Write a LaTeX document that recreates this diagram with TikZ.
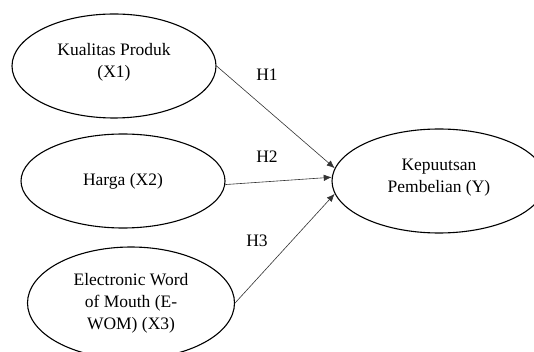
\documentclass[tikz,border=0pt]{standalone}
\usepackage{fontspec}
\setmainfont{Liberation Serif}
\usetikzlibrary{shapes.geometric,arrows.meta}
\begin{document}
\begin{tikzpicture}[x=1pt,y=-1pt,
  var/.style={draw=black,ellipse,line width=1.1pt,inner sep=0pt,align=center,
    font=\fontsize{17.5}{22}\selectfont,text=black},
  up/.style={text depth=10.5pt},
  path/.style={draw=black!80,line width=0.6pt,-{Latex[length=8pt,width=6.5pt]}},
  hyp/.style={font=\fontsize{17.5}{22}\selectfont,text=black}]
\useasboundingbox (0,0) rectangle (534,352);
\clip (0,0) rectangle (534,352);
\fill[white] (0,0) rectangle (534,352);
\node[var,up,minimum width=204pt,minimum height=104pt] (x1) at (114,66) {Kualitas Produk\\(X1)};
\node[var,minimum width=204pt,minimum height=94pt] (x2) at (123,181) {Harga (X2)};
\node[var,minimum width=207pt,minimum height=112pt] (x3) at (131,303) {Electronic Word\\of Mouth (E-\\WOM) (X3)};
\node[var,up,minimum width=214pt,minimum height=104pt] (y) at (439,181) {Kepuutsan\\Pembelian (Y)};
\draw[path] (x1.east) -- (y.173);
\draw[path] (x2.-2) -- (y.178);
\draw[path] (x3.east) -- (y.187);
\node[hyp] (h1) at (267,75) {H1};
\node[hyp] (h2) at (267,157) {H2};
\node[hyp] (h3) at (257,241) {H3};
\end{tikzpicture}
\end{document}
